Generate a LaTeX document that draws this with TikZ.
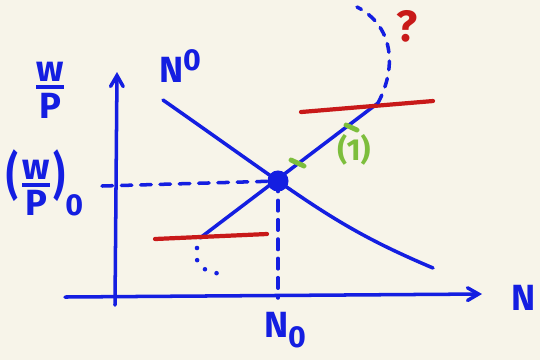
\documentclass[tikz,border=0pt]{standalone}
\usepackage{amsmath}
\usepackage{fontspec}
\setsansfont{Fira Sans}
\usetikzlibrary{arrows,positioning,calc}
\definecolor{penBlue}{RGB}{20,30,225}
\definecolor{penRed}{RGB}{200,25,25}
\definecolor{penGreen}{RGB}{125,190,60}
\definecolor{paper}{RGB}{247,244,233}
\tikzset{
    axis/.style={draw, ->, >=angle 60, line width=2pt, penBlue, line cap=round},
    curve/.style={draw, line width=2pt, penBlue, line cap=round},
    guide/.style={draw, line width=2pt, penBlue, dash pattern=on 6pt off 5pt, line cap=round},
    dotline/.style={draw, line width=2.6pt, penBlue, dash pattern=on 0pt off 7pt, line cap=round},
    wage/.style={draw, line width=2.4pt, penRed, line cap=round},
    tick1/.style={draw, line width=2.8pt, penGreen, line cap=round},
    lbl/.style={font=\sffamily\bfseries\huge, penBlue, inner sep=0pt}
}
\newcommand{\wpfrac}{$\genfrac{}{}{2.2pt}{1}{\displaystyle\textsf{w}}{\displaystyle\textsf{P}}$}

\begin{document}
\begin{tikzpicture}[x=0.02cm, y=-0.02cm]
  \useasboundingbox (0,0) rectangle (540,360);
  \fill[paper] (0,0) rectangle (540,360);

  % axes
  \coordinate (yFoot) at (115,305);
  \coordinate (yTip) at (117,72);
  \coordinate (xFoot) at (65,297);
  \coordinate (xTip) at (482,294);
  \draw[axis] (yFoot) -- (yTip);
  \draw[axis] (xFoot) -- (xTip);

  % curves
  \node[circle, fill=penBlue, inner sep=0pt, minimum size=12] (eq) at (278,181) {};
  \coordinate (dTop) at (163,100);
  \coordinate (dEnd) at (433,268);
  \coordinate (sLow) at (200,238);
  \coordinate (sHigh) at (378,103);
  \draw[curve] (dTop) to[out=-35, in=145] (eq.center) to[out=-35, in=157] (dEnd);
  \draw[curve] (sLow) -- (sHigh);

  % guides
  \coordinate (wLvl) at (102,186);
  \coordinate (nFoot) at (278,298);
  \draw[guide] (wLvl) -- (eq.center);
  \draw[guide] (eq.center) -- (nFoot);

  % wage floors
  \coordinate (rLowA) at (155,239);
  \coordinate (rLowB) at (267,234);
  \coordinate (rHighA) at (301,112);
  \coordinate (rHighB) at (433,101);
  \draw[wage] (rLowA) -- (rLowB);
  \draw[wage] (rHighA) -- (rHighB);

  % extensions
  \coordinate (lowEnd) at (222,274);
  \coordinate (highEnd) at (357,7);
  \draw[dotline] (197,248) .. controls (193,266) and (205,272) .. (lowEnd);
  \draw[guide, dash pattern=on 5pt off 5pt] (sHigh) .. controls (398,65) and (392,25) .. (highEnd);

  % marks on supply
  \draw[tick1] (291,160) -- (304,166);
  \draw[tick1] (346,125) -- (357,130);
  \node[font=\sffamily\bfseries\LARGE, penGreen, inner sep=0pt] (one) at (354,150) {(1)};
  \node[font=\sffamily\bfseries\Huge, penRed, inner sep=0pt] (what) at (407,26) {?};

  % labels
  \node[lbl] (wp) at (50,90) {\wpfrac};
  \node[lbl] (wp0) at (45,183) {\scalebox{1}[1.4]{(}\kern1pt\wpfrac\kern1pt\scalebox{1}[1.4]{)}\raisebox{-1.1ex}{\LARGE 0}};
  \node[lbl] (nd) at (180,66) {N\raisebox{0.6ex}{\LARGE 0}};
  \node[lbl] (n0) at (285,330) {N\raisebox{-0.5ex}{\LARGE 0}};
  \node[lbl] (nAx) at (524,298) {N};
\end{tikzpicture}
\end{document}
